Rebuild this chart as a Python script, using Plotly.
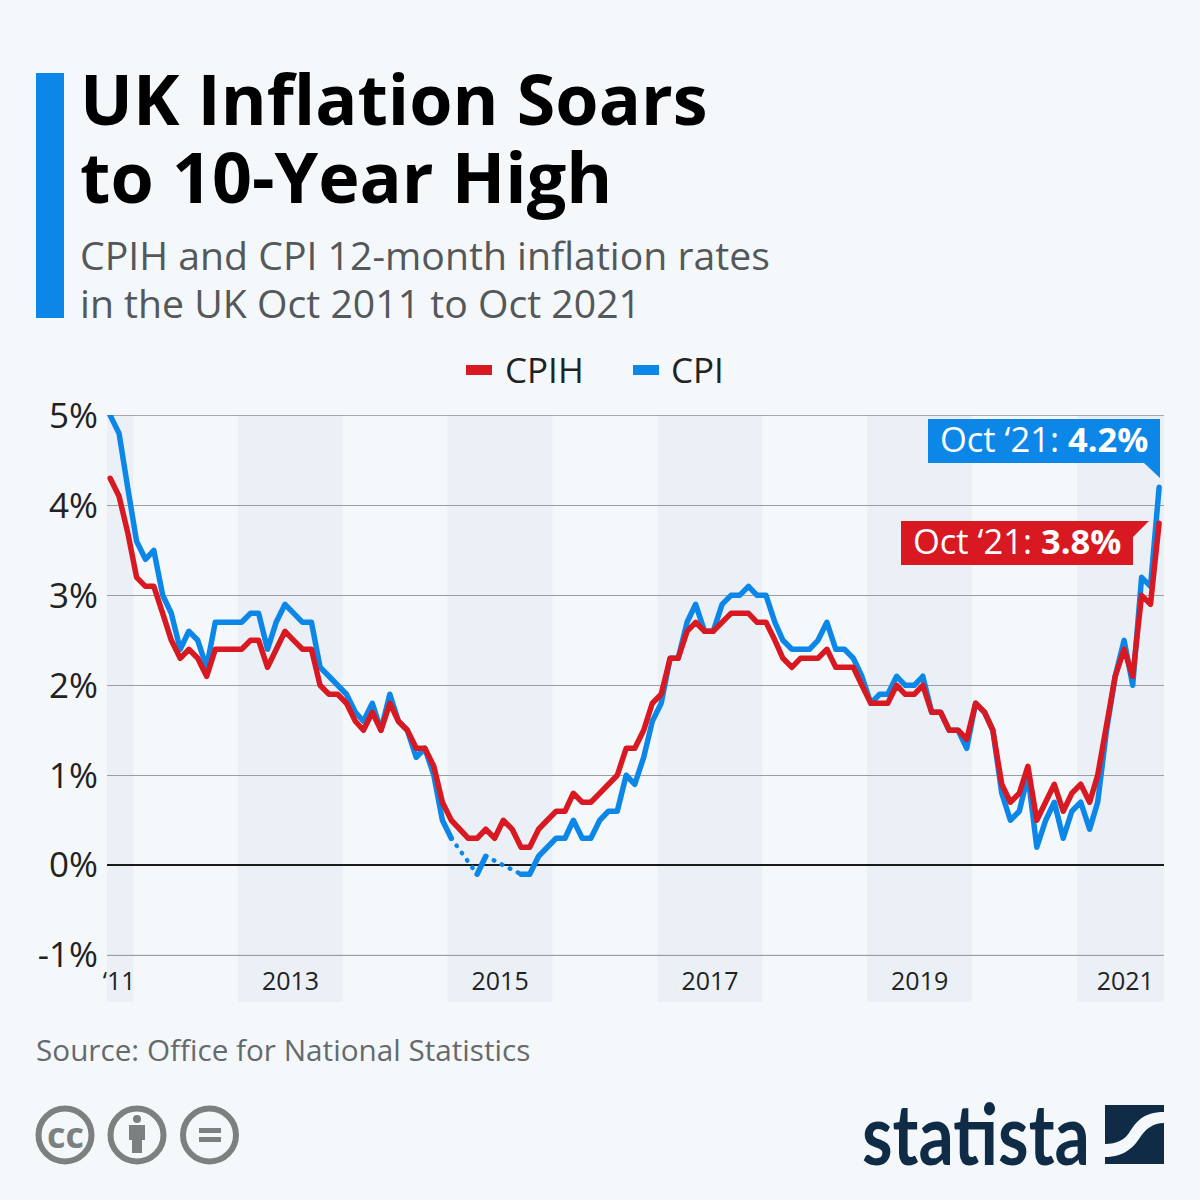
"""UK CPIH and CPI 12-month inflation rates, Oct 2011 to Oct 2021."""

import pandas as pd
import plotly.graph_objects as go

months = pd.date_range('2011-10-01', '2021-10-01', freq='MS')

cpih = [4.3, 4.1, 3.7,
        3.2, 3.1, 3.1, 2.8, 2.5, 2.3, 2.4, 2.3, 2.1, 2.4, 2.4, 2.4,
        2.4, 2.5, 2.5, 2.2, 2.4, 2.6, 2.5, 2.4, 2.4, 2.0, 1.9, 1.9,
        1.8, 1.6, 1.5, 1.7, 1.5, 1.8, 1.6, 1.5, 1.3, 1.3, 1.1, 0.7,
        0.5, 0.4, 0.3, 0.3, 0.4, 0.3, 0.5, 0.4, 0.2, 0.2, 0.4, 0.5,
        0.6, 0.6, 0.8, 0.7, 0.7, 0.8, 0.9, 1.0, 1.3, 1.3, 1.5, 1.8,
        1.9, 2.3, 2.3, 2.6, 2.7, 2.6, 2.6, 2.7, 2.8, 2.8, 2.8, 2.7,
        2.7, 2.5, 2.3, 2.2, 2.3, 2.3, 2.3, 2.4, 2.2, 2.2, 2.2, 2.0,
        1.8, 1.8, 1.8, 2.0, 1.9, 1.9, 2.0, 1.7, 1.7, 1.5, 1.5, 1.4,
        1.8, 1.7, 1.5, 0.9, 0.7, 0.8, 1.1, 0.5, 0.7, 0.9, 0.6, 0.8,
        0.9, 0.7, 1.0, 1.6, 2.1, 2.4, 2.1, 3.0, 2.9, 3.8]

# None: no CPI point in the picture, the gap is bridged by a dotted line
cpi = [5.0, 4.8, 4.2,
       3.6, 3.4, 3.5, 3.0, 2.8, 2.4, 2.6, 2.5, 2.2, 2.7, 2.7, 2.7,
       2.7, 2.8, 2.8, 2.4, 2.7, 2.9, 2.8, 2.7, 2.7, 2.2, 2.1, 2.0,
       1.9, 1.7, 1.6, 1.8, 1.5, 1.9, 1.6, 1.5, 1.2, 1.3, 1.0, 0.5,
       0.3, None, None, -0.1, 0.1, None, None, None, -0.1, -0.1, 0.1, 0.2,
       0.3, 0.3, 0.5, 0.3, 0.3, 0.5, 0.6, 0.6, 1.0, 0.9, 1.2, 1.6,
       1.8, 2.3, 2.3, 2.7, 2.9, 2.6, 2.6, 2.9, 3.0, 3.0, 3.1, 3.0,
       3.0, 2.7, 2.5, 2.4, 2.4, 2.4, 2.5, 2.7, 2.4, 2.4, 2.3, 2.1,
       1.8, 1.9, 1.9, 2.1, 2.0, 2.0, 2.1, 1.7, 1.7, 1.5, 1.5, 1.3,
       1.8, 1.7, 1.5, 0.8, 0.5, 0.6, 1.0, 0.2, 0.5, 0.7, 0.3, 0.6,
       0.7, 0.4, 0.7, 1.5, 2.1, 2.5, 2.0, 3.2, 3.1, 4.2]

dotted_spans = [('2015-01-01', '2015-04-01'), ('2015-05-01', '2015-09-01')]

band_years = [('2011-09-01', '2011-12-21'), ('2012-12-19', '2013-12-19'),
              ('2014-12-19', '2015-12-19'), ('2016-12-19', '2017-12-19'),
              ('2018-12-19', '2019-12-19'), ('2020-12-19', '2021-10-18')]

x_ticks = ['2011-11-01', '2013-06-20', '2015-06-20', '2017-06-20',
           '2019-06-20', '2021-06-05']
x_labels = ['‘11', '2013', '2015', '2017', '2019', '2021']
y_ticks = [-1, 0, 1, 2, 3, 4, 5]
y_labels = ['-1%', '0%', '1%', '2%', '3%', '4%', '5%']

RED = '#D81921'
BLUE = '#0C87E8'
NAVY = '#0F2B46'
GREY = '#7C807F'
BG = '#F4F8FB'
FONT = 'Open Sans'

# round line ends and a condensed logo word, neither is a plotly option
POST_SCRIPT = """
document.body.style.margin = '0';
document.querySelectorAll('.js-line').forEach(function (p) {
    p.style.strokeLinecap = 'round';
    p.style.strokeLinejoin = 'round';
});
document.querySelectorAll('text.annotation-text').forEach(function (t) {
    if (t.textContent === 'statista') {
        t.style.transformBox = 'fill-box';
        t.style.transformOrigin = 'center';
        t.style.transform = 'scale(0.87, 1.05)';
    }
});
"""


def px_x(x):
    return x / 1200


def px_y(y):
    return 1 - y / 1200


def px_path(*parts):
    """Build an SVG path in paper coordinates from pixel pairs."""
    out = []
    for part in parts:
        if isinstance(part, str):
            out.append(part)
        else:
            out.append(f'{px_x(part[0]):.5f},{px_y(part[1]):.5f}')
    return ' '.join(out)


def paper_rect(x0, y0, x1, y1, color):
    return dict(type='rect', xref='paper', yref='paper', x0=px_x(x0), x1=px_x(x1),
                y0=px_y(y0), y1=px_y(y1), fillcolor=color, line_width=0)


def ring(cx, cy, r):
    return dict(type='circle', xref='paper', yref='paper',
                x0=px_x(cx - r), x1=px_x(cx + r), y0=px_y(cy + r), y1=px_y(cy - r),
                fillcolor='rgba(0,0,0,0)', line=dict(color=GREY, width=6))


def text_at(x, y, text, size, color, anchor='left', family=FONT):
    return dict(xref='paper', yref='paper', x=px_x(x), y=px_y(y), text=text,
                showarrow=False, xanchor=anchor, yanchor='middle', align=anchor,
                font=dict(family=family, size=size, color=color))


def grid_edge(value, color):
    # plotly leaves out the grid lines of the lowest and highest tick
    return dict(type='line', xref='x domain', yref='y', x0=0, x1=1, y0=value, y1=value,
                line=dict(color=color, width=1), layer='below')


series = pd.DataFrame({'cpih': cpih, 'cpi': cpi}, index=months, dtype=float)

fig = go.Figure()
fig.add_trace(go.Scatter(
    x=months, y=series['cpi'], name='CPI', mode='lines', cliponaxis=False,
    line=dict(color=BLUE, width=5.5), showlegend=False,
))
for start, end in dotted_spans:
    part = series['cpi'][start:end].dropna()
    fig.add_trace(go.Scatter(
        x=part.index, y=part, mode='lines', showlegend=False, cliponaxis=False,
        line=dict(color=BLUE, width=4.5, dash='0.5px,8.5px'),
    ))
fig.add_trace(go.Scatter(
    x=months, y=series['cpih'], name='CPIH', mode='lines', cliponaxis=False,
    line=dict(color=RED, width=5.5), showlegend=False,
))

shapes = []
for start, end in band_years:
    shapes.append(dict(type='rect', xref='x', yref='y domain', x0=start, x1=end, y0=0, y1=1,
                       fillcolor='#EBF0F7', line_width=0, layer='below'))
shapes += [grid_edge(5, '#9A9EA2'), grid_edge(-1, '#BDC0C3')]

# header bar
shapes.append(paper_rect(36, 73, 64, 318, BLUE))

# legend keys
shapes.append(paper_rect(466, 365, 492, 375, RED))
shapes.append(paper_rect(633, 365, 659, 375, BLUE))

# value callouts with their tails
shapes.append(dict(type='path', xref='paper', yref='paper', fillcolor=BLUE, line_width=0, path=px_path(
    'M', (928, 419), 'L', (1160, 419), 'L', (1160, 478), 'L', (1144, 463), 'L', (928, 463), 'Z')))
shapes.append(dict(type='path', xref='paper', yref='paper', fillcolor=RED, line_width=0, path=px_path(
    'M', (901, 521), 'L', (1149, 521), 'L', (1133, 537), 'L', (1133, 565), 'L', (901, 565), 'Z')))

# licence icons
shapes += [ring(65, 1135, 26.5), ring(137, 1135, 26.5), ring(209.5, 1135, 26.5)]
shapes.append(dict(type='circle', xref='paper', yref='paper', x0=px_x(133), x1=px_x(141),
                   y0=px_y(1123), y1=px_y(1115), fillcolor=GREY, line_width=0))
shapes.append(dict(type='path', xref='paper', yref='paper', fillcolor=GREY, line_width=0, path=px_path(
    'M', (129, 1125), 'L', (145, 1125), 'L', (145, 1140), 'L', (142, 1140), 'L', (142, 1153),
    'L', (132, 1153), 'L', (132, 1140), 'L', (129, 1140), 'Z')))
shapes.append(paper_rect(199, 1128, 221, 1133, GREY))
shapes.append(paper_rect(199, 1137, 221, 1142, GREY))

# statista mark
shapes.append(dict(type='path', xref='paper', yref='paper', fillcolor=NAVY, line_width=0, path=px_path(
    'M', (1105, 1105), 'L', (1164, 1105), 'L', (1164, 1112),
    'C', (1143, 1112), (1136, 1122), (1129, 1133), 'C', (1124, 1140), (1117, 1144), (1105, 1144), 'Z')))
shapes.append(dict(type='path', xref='paper', yref='paper', fillcolor=NAVY, line_width=0, path=px_path(
    'M', (1164, 1123), 'L', (1164, 1164), 'L', (1105, 1164), 'L', (1105, 1157),
    'C', (1125, 1157), (1134, 1147), (1141, 1136), 'C', (1146, 1129), (1153, 1123), (1164, 1123), 'Z')))

annotations = [
    text_at(77.5, 98, '<b>UK Inflation Soars</b>', 70, '#000000'),
    text_at(77.5, 176, '<b>to 10-Year High</b>', 70, '#000000'),
    text_at(78, 254, 'CPIH and CPI 12-month inflation rates', 39.2, '#54585A'),
    text_at(78, 302, 'in the UK Oct 2011 to Oct 2021', 39.2, '#54585A'),
    text_at(503, 369, 'CPIH', 35, '#222222'),
    text_at(669, 369, 'CPI', 35, '#222222'),
    text_at(1044, 438, 'Oct ‘21: <b>4.2%</b>', 34.5, '#FFFFFF', anchor='center'),
    text_at(1017, 540, 'Oct ‘21: <b>3.8%</b>', 34.5, '#FFFFFF', anchor='center'),
    text_at(34, 1049, 'Source: Office for National Statistics', 29.7, '#666A6C'),
    text_at(65, 1134, '<b>cc</b>', 36, GREY, anchor='center'),
    text_at(976, 1132, '<b>statista</b>', 80, NAVY, anchor='center', family='Lato'),
]

fig.update_layout(
    width=1200,
    height=1200,
    margin=dict(l=0, r=0, t=0, b=0, autoexpand=False),
    paper_bgcolor=BG,
    plot_bgcolor=BG,
    font=dict(family=FONT, color='#222222'),
    shapes=shapes,
    annotations=annotations,
    showlegend=False,
    xaxis=dict(
        type='date',
        automargin=False,
        domain=[px_x(107), px_x(1164)],
        range=['2011-09-20', '2021-10-18'],
        tickmode='array',
        tickvals=x_ticks,
        ticktext=x_labels,
        ticklabelposition='inside',
        ticklabeloverflow='allow',
        ticklabelstandoff=4,
        tickfont=dict(size=25, color='#222222'),
        ticks='',
        showgrid=False,
        showline=False,
        zeroline=False,
    ),
    yaxis=dict(
        automargin=False,
        domain=[px_y(1002), px_y(415)],
        range=[-1.52, 5.004],
        tickmode='array',
        tickvals=y_ticks,
        ticktext=y_labels,
        ticklabelstandoff=8,
        tickfont=dict(size=35, color='#222222'),
        ticks='',
        showgrid=True,
        gridcolor='#9A9EA2',
        gridwidth=1,
        zeroline=True,
        zerolinecolor='#1A1A1A',
        zerolinewidth=2,
        showline=False,
    ),
)

fig.write_html('out.html', config={'displayModeBar': False}, post_script=POST_SCRIPT)
